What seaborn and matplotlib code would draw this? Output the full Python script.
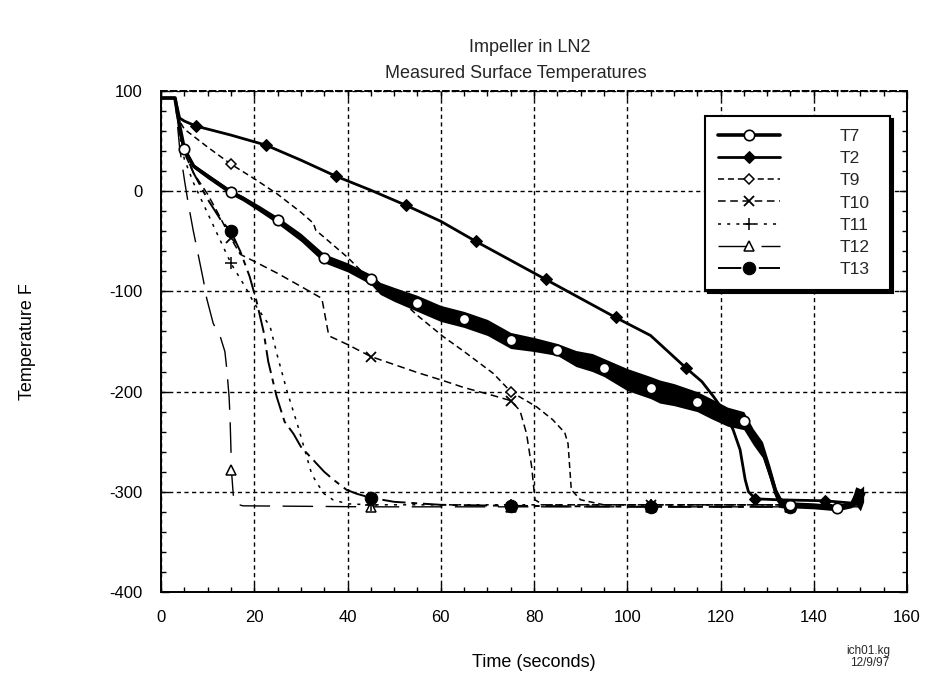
import numpy as np
import pandas as pd
import matplotlib
matplotlib.use("Agg")
import matplotlib.pyplot as plt
from matplotlib.ticker import MultipleLocator
import seaborn as sns

# ---------------- data ----------------
T7_t = [0, 3, 4, 5, 7, 10, 15, 17.5, 21, 25, 30, 35, 40, 45, 47, 50, 55, 60, 65, 70, 75, 80, 85, 89,
        92.5, 95, 100, 105, 107, 110, 115, 118, 121.5, 125, 127, 129, 130.6, 132, 133, 135, 140, 145,
        148, 149, 150, 150.7]
T7_v = [93, 93, 65, 42, 25, 15, -1, -7, -17, -29, -46, -67, -76, -88, -97, -103, -112, -122, -128, -136,
        -149, -153, -158, -167, -171, -176, -188, -196, -200, -203, -210, -217, -225, -229, -245, -258,
        -281, -303, -311, -313, -314, -316, -313, -304, -308, -302]
T7_spread = [0, 0, 1, 2, 2, 2.5, 2.5, 2.5, 3, 3.5, 4, 4.5, 4.5, 5, 6, 7, 8, 8, 8, 8, 8, 7, 6, 8,
             9, 9, 11, 11, 11.5, 11, 10, 10, 9.5, 9, 8, 8, 7, 6, 5, 3, 3, 3, 3, 9, 11, 8]
T7_marks = [5, 15, 25, 35, 45, 55, 65, 75, 85, 95, 105, 115, 125, 135, 145]

T2_t = [0, 3, 4, 5, 7.5, 15, 22.5, 30, 37.5, 45, 52.5, 60, 67.5, 75, 82.5, 90, 97.5, 105, 112.5, 116,
        118.5, 120.5, 122.7, 124.2, 125.3, 126, 127.5, 132.5, 142.5, 150]
T2_v = [93, 93, 73, 70, 65, 56, 46, 31, 15, 1, -14, -30, -50, -69, -88, -107, -126, -144, -176, -190,
        -205, -218, -238, -258, -288, -300, -307, -308, -309, -312]
T2_marks = [7.5, 22.5, 37.5, 52.5, 67.5, 82.5, 97.5, 112.5, 127.5, 142.5]

T9_t = [0, 3, 4, 5, 10, 15, 20.5, 25, 30, 32.7, 33.2, 35, 40, 45, 51.5, 55, 60.5, 65, 71.3, 75, 80.5,
        84, 86.6, 87.3, 88, 90, 95, 105, 135, 150]
T9_v = [93, 93, 70, 62, 44, 27, 11, -3, -21, -32, -39, -46, -66, -89, -109, -124, -145, -160, -182,
        -200, -215, -228, -241, -252, -298, -308, -313, -313, -313, -313]
T9_marks = [15, 45, 75, 105, 135]

T10_t = [0, 3, 4, 5, 7, 10, 12, 15, 17, 20, 25, 30, 34.5, 35.9, 36.3, 40, 45, 50, 55, 60.5, 65, 71.3,
         75, 77, 78.4, 79.5, 80.2, 82, 105, 135, 150]
T10_v = [93, 93, 62, 38, 18, -3, -20, -47, -63, -70, -82, -95, -107, -142, -145, -153, -165, -173,
         -181, -189, -196, -204, -209, -219, -242, -275, -308, -313, -313, -313, -313]
T10_marks = [15, 45, 75, 105, 135]

T11_t = [0, 3, 4, 5, 7, 10, 13, 15, 18, 20, 23.4, 25, 27, 29.4, 32.3, 33.4, 35, 36.9, 40, 45, 75, 105,
         135, 150]
T11_v = [93, 93, 55, 32, 8, -22, -52, -72, -95, -112, -135, -165, -199, -235, -282, -291, -302, -308,
         -312, -313, -313, -313, -313, -313]
T11_marks = [15, 45, 75, 105, 135]

T12_t = [0, 3, 4, 5.1, 5.8, 6.9, 7.7, 9.1, 9.8, 11.2, 12.7, 13.7, 14.1, 14.6, 14.8, 15, 15.1, 15.5, 16,
         17.6, 45, 75, 105, 135, 150]
T12_v = [93, 93, 43, 9, -11, -39, -57, -89, -107, -132, -145, -160, -177, -205, -225, -257, -278, -303,
         -312, -314, -315, -315, -315, -315, -315]
T12_marks = [15.1, 45, 75, 105, 135]

T13_t = [0, 3, 4, 5, 7, 10, 13, 15, 17, 19, 20.5, 22, 23, 24.8, 26.5, 28.4, 30, 32, 35, 37, 39.8, 42,
         45, 50, 60, 75, 105, 135, 150]
T13_v = [93, 93, 58, 40, 18, -8, -30, -40, -60, -85, -110, -140, -170, -205, -230, -242, -255, -265,
         -280, -288, -298, -302, -306, -310, -313, -314, -315, -315, -314]
T13_marks = [15, 45, 75, 105, 135]

x_ticks = [0, 20, 40, 60, 80, 100, 120, 140, 160]
y_ticks = [-400, -300, -200, -100, 0, 100]

# ---------------- style ----------------
sns.set_theme(style="white")
plt.rcParams["font.family"] = ["Liberation Sans", "DejaVu Sans"]
plt.rcParams["axes.unicode_minus"] = False

fig = plt.figure(figsize=(9.25, 6.84), dpi=100)
ax = fig.add_axes([161 / 925, 1 - 592 / 684, 746 / 925, 501 / 684])


def idx(times, marks):
    return [list(times).index(m) for m in marks]


def draw(t, v, marks, label, **kw):
    df = pd.DataFrame({"t": t, "v": v})
    sns.lineplot(data=df, x="t", y="v", ax=ax, sort=False, estimator=None, color="black",
                 markevery=idx(t, marks), label=label, **kw)


draw(T12_t, T12_v, T12_marks, "T12", lw=1.0, linestyle=(0, (22, 9)), marker="^",
     markersize=7, markerfacecolor="white", markeredgecolor="black", markeredgewidth=1.1)
draw(T11_t, T11_v, T11_marks, "T11", lw=1.1, linestyle=(0, (2, 4)), marker="+",
     markersize=9, markeredgecolor="black", markeredgewidth=1.1)
draw(T10_t, T10_v, T10_marks, "T10", lw=1.1, linestyle=(0, (5, 3)), marker="x",
     markersize=7, markeredgecolor="black", markeredgewidth=1.3)
draw(T9_t, T9_v, T9_marks, "T9", lw=1.1, linestyle=(0, (4, 2.5)), marker="D",
     markersize=5.5, markerfacecolor="white", markeredgecolor="black", markeredgewidth=1.1)
draw(T13_t, T13_v, T13_marks, "T13", lw=1.4, linestyle=(0, (12, 3, 3, 3)), marker="o",
     markersize=9, markerfacecolor="black", markeredgecolor="black")

t7 = np.array(T7_t)
v7 = np.array(T7_v)
s7 = np.array(T7_spread)
ax.fill_between(t7, v7 - s7, v7 + s7, color="black", lw=0, zorder=2)
draw(T7_t, T7_v, T7_marks, "T7", lw=2.6, linestyle="-", marker="o",
     markersize=7.5, markerfacecolor="white", markeredgecolor="black", markeredgewidth=1.2)
draw(T2_t, T2_v, T2_marks, "T2", lw=2.0, linestyle="-", marker="D",
     markersize=6, markerfacecolor="black", markeredgecolor="black")

for ln in ax.get_lines():
    ln.set_zorder(3)

ax.set_xlim(0, 160)
ax.set_ylim(-400, 100)
ax.set_xticks(x_ticks)
ax.set_yticks(y_ticks)
ax.set_xticklabels([str(x) for x in x_ticks])
ax.set_yticklabels([str(y) for y in y_ticks])
ax.xaxis.set_minor_locator(MultipleLocator(5))
ax.yaxis.set_minor_locator(MultipleLocator(20))
ax.tick_params(which="both", direction="in", top=True, right=True, bottom=True, left=True,
               color="black", width=1.0, labelsize=12, labelcolor="black")
ax.tick_params(which="major", length=6)
ax.tick_params(which="minor", length=3.5)
ax.tick_params(axis="y", which="major", pad=13)
ax.tick_params(axis="x", which="major", pad=13)
ax.grid(True, which="major", color="black", linestyle=(0, (3, 2.5)), lw=1.0)
for sp in ax.spines.values():
    sp.set_color("black")
    sp.set_linewidth(1.4)
ax.spines["top"].set_linestyle((0, (3, 2)))
ax.set_facecolor("white")

ax.set_xlabel("Time (seconds)", fontsize=13, color="black", labelpad=21)
ax.set_ylabel("Temperature F", fontsize=13, color="black", labelpad=53)

fig.text(530 / 925, 1 - 47 / 684, "Impeller in LN2", ha="center", va="center", fontsize=13)
fig.text(516 / 925, 1 - 73 / 684, "Measured Surface Temperatures", ha="center", va="center",
         fontsize=13)
fig.text(868 / 925, 1 - 651 / 684, "ich01.kg", ha="center", va="center", fontsize=8.5)
fig.text(870 / 925, 1 - 663 / 684, "12/9/97", ha="center", va="center", fontsize=8.5)

order = ["T7", "T2", "T9", "T10", "T11", "T12", "T13"]
hs, ls = ax.get_legend_handles_labels()
hmap = dict(zip(ls, hs))
x0 = (705 - 161) / 746
w = (890 - 705) / 746
leg = ax.legend([hmap[k] for k in order], order, loc="upper left", mode="expand",
                bbox_to_anchor=(x0, 0.0, w, 0.950), borderaxespad=0, frameon=True, fancybox=False,
                shadow={"color": "black", "alpha": 1}, edgecolor="black", framealpha=1,
                fontsize=12.5, handlelength=3.55, handletextpad=3.45, labelspacing=0.40,
                borderpad=0.75)
leg.get_frame().set_linewidth(1.5)
leg.set_zorder(10)

fig.savefig("out.png", dpi=100, facecolor="white")
